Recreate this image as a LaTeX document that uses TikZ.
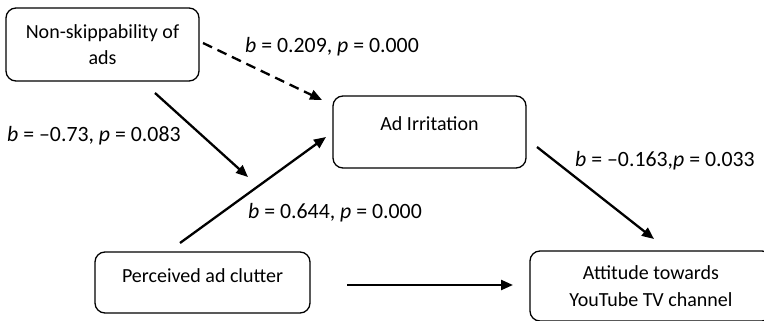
\documentclass[tikz,border=0pt]{standalone}
\usepackage{fontspec}
\setmainfont{Carlito}
\usetikzlibrary{arrows.meta}
\tikzset{
  box/.style={draw, line width=1.3pt, rounded corners=10pt, align=center, inner sep=0pt,
    font=\fontsize{20}{26.5}\selectfont},
  lab/.style={anchor=base west, inner sep=0pt, font=\fontsize{21.8}{26}\selectfont},
  conn/.style={line width=2.3pt, -{Triangle[length=12pt,width=10pt]}},
}
\begin{document}
\begin{tikzpicture}[x=1pt,y=-1pt]
\useasboundingbox (0,0) rectangle (764,321);
\begin{scope}
\clip (0,0) rectangle (764,321);
\node[box, minimum width=193pt, minimum height=73pt] (nsk) at (102.5,44.5) {Non-skippability of\\ads};
\node[box, minimum width=193pt, minimum height=72pt, text height=13pt, text depth=15pt] (ai) at (429.5,132) {Ad Irritation};
\node[box, minimum width=215pt, minimum height=61pt, text height=13pt, text depth=14pt] (pac) at (202.5,282.5) {Perceived ad clutter};
\node[box, minimum width=242pt, minimum height=70pt] (att) at (651,286) {Attitude towards\\YouTube TV channel};
\end{scope}

\coordinate (d1s) at (203,43);
\coordinate (d1e) at (322,100);
\coordinate (m1s) at (155,93);
\coordinate (m1e) at (248,177);
\coordinate (p1s) at (180,243);
\coordinate (p1e) at (326,137);
\coordinate (a1s) at (537,147);
\coordinate (a1e) at (654,239);
\coordinate (h1s) at (347,285);
\coordinate (h1e) at (513,285);

\draw[conn, dash pattern=on 10pt off 6pt] (d1s) -- (d1e);
\draw[conn] (m1s) -- (m1e);
\draw[conn] (p1s) -- (p1e);
\draw[conn] (a1s) -- (a1e);
\draw[conn] (h1s) -- (h1e);

\node[lab] (l1) at (245,53) {\textit{b} = 0.209, \textit{p} = 0.000};
\node[lab] (l2) at (7,142) {\textit{b} = –0.73, \textit{p} = 0.083};
\node[lab] (l3) at (248,218) {\textit{b} = 0.644, \textit{p} = 0.000};
\node[lab] (l4) at (575,167) {\textit{b} = –0.163,\textit{p} = 0.033};
\end{tikzpicture}
\end{document}
